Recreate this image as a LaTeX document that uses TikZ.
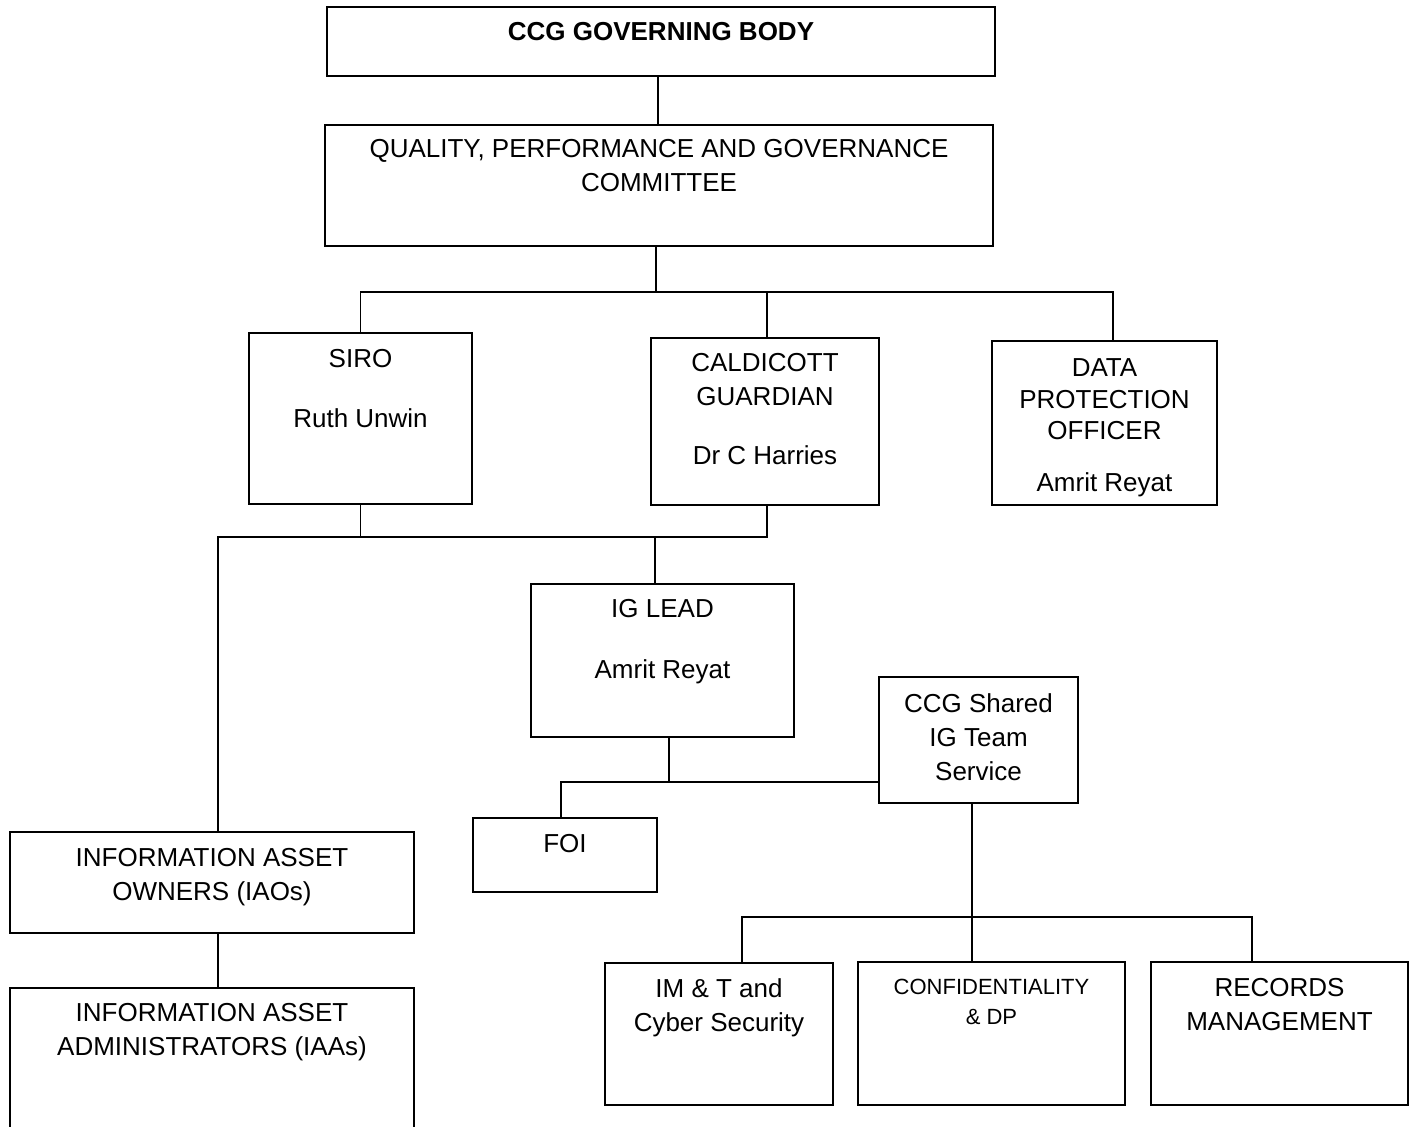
\documentclass[tikz,border=0pt]{standalone}
\usepackage{fontspec}
\setmainfont{Liberation Sans}
\usetikzlibrary{positioning,fit}

\begin{document}
\begin{tikzpicture}[x=0.5pt,y=-0.5pt,
  box/.style={draw,line width=0.8pt,inner sep=0pt},
  txt/.style={align=center,inner sep=0pt,font=\fontsize{13}{17}\selectfont,execute at begin node=\strut},
  link/.style={draw,line width=0.6pt}]
\useasboundingbox (0,0) rectangle (1415,1126);
\clip (0,0) rectangle (1415,1126);
\def\busTop{292}
\def\busMid{537}
\def\busLow{782}
\def\busBot{917}
\coordinate (topbus) at (0,\busTop);
\coordinate (midbus) at (0,\busMid);
\coordinate (lowbus) at (0,\busLow);
\coordinate (botbus) at (0,\busBot);

% boxes
\node[box,fit={(327,7) (995,76)}] (gb) {};
\node[box,fit={(325,125) (993,246)}] (qpg) {};
\node[box,fit={(249,333) (472,504)}] (siro) {};
\node[box,fit={(651,338) (879,505)}] (cald) {};
\node[box,fit={(992,341) (1217,505)}] (dpo) {};
\node[box,fit={(531,584) (794,737)}] (ig) {};
\node[box,fit={(879,677) (1078,803)}] (shared) {};
\node[box,fit={(473,818) (657,892)}] (foi) {};
\node[box,fit={(10,832) (414,933)}] (iao) {};
\node[box,fit={(10,988) (414,1140)}] (iaa) {};
\node[box,fit={(605,963) (833,1105)}] (imt) {};
\node[box,fit={(858,962) (1125,1105)}] (conf) {};
\node[box,fit={(1151,962) (1408,1105)}] (rm) {};

% texts
\node[txt,font=\fontsize{13}{17}\selectfont\bfseries,below=5.25pt of gb.north] (gbtext) {CCG GOVERNING BODY};
\node[txt,below=7.25pt of qpg.north] (qpgtext) {QUALITY, PERFORMANCE AND GOVERNANCE\\COMMITTEE};
\node[txt,below=8.25pt of siro.north] (sirotext) {SIRO\\[13pt]Ruth Unwin};
\node[txt,below=7.75pt of cald.north] (caldtext) {CALDICOTT\\GUARDIAN\\[12.5pt]Dr C Harries};
\node[txt,font=\fontsize{13}{15.75}\selectfont,below=9.25pt of dpo.north] (dpotext) {DATA\\PROTECTION\\OFFICER\\[10pt]Amrit Reyat};
\node[txt,below=7.75pt of ig.north] (igtext) {IG LEAD\\[13.5pt]Amrit Reyat};
\node[txt,below=8.75pt of shared.north] (sharedtext) {CCG Shared\\IG Team\\Service};
\node[txt,below=5.75pt of foi.north] (foitext) {FOI};
\node[txt,below=8.25pt of iao.north] (iaotext) {INFORMATION ASSET\\OWNERS (IAOs)};
\node[txt,below=7.75pt of iaa.north] (iaatext) {INFORMATION ASSET\\ADMINISTRATORS (IAAs)};
\node[txt,below=8.25pt of imt.north] (imttext) {IM \& T and\\Cyber Security};
\node[txt,font=\fontsize{11}{15}\selectfont,below=8.95pt of conf.north] (conftext) {CONFIDENTIALITY\\\& DP};
\node[txt,below=8.25pt of rm.north] (rmtext) {RECORDS\\MANAGEMENT};

% connectors
\path[link] ([xshift=-1.5pt]gb.south) -- ([xshift=-1.5pt]gb.south |- qpg.north);
\path[link] ([xshift=-1.5pt]qpg.south) -- ([xshift=-1.5pt]qpg.south |- topbus);
\path[link] (siro.north) |- ([xshift=4.25pt]dpo.north |- topbus) -- ([xshift=4.25pt]dpo.north);
\path[link] ([xshift=1pt]cald.north) -- ([xshift=1pt]cald.north |- topbus);

\path[link] (siro.south) -- (siro.south |- midbus);
\path[link] ([xshift=1pt]cald.south) |- ([xshift=3pt]iao.north |- midbus) -- ([xshift=3pt]iao.north);
\path[link] ([xshift=-3.75pt]ig.north) -- ([xshift=-3.75pt]ig.north |- midbus);
\path[link] ([xshift=3pt]iao.south) -- ([xshift=3pt]iaa.north);

\path[link] ([xshift=3.25pt]ig.south) -- ([xshift=3.25pt]ig.south |- lowbus);
\path[link] ([xshift=-2pt]foi.north) |- (shared.west |- lowbus);

\path[link] ([xshift=-3.25pt]shared.south) -- ([xshift=-3.25pt]shared.south |- botbus);
\path[link] ([xshift=11.5pt]imt.north) |- ([xshift=-13.75pt]rm.north |- botbus) -- ([xshift=-13.75pt]rm.north);
\path[link] ([xshift=-9.75pt]conf.north) -- ([xshift=-9.75pt]conf.north |- botbus);
\end{tikzpicture}
\end{document}
